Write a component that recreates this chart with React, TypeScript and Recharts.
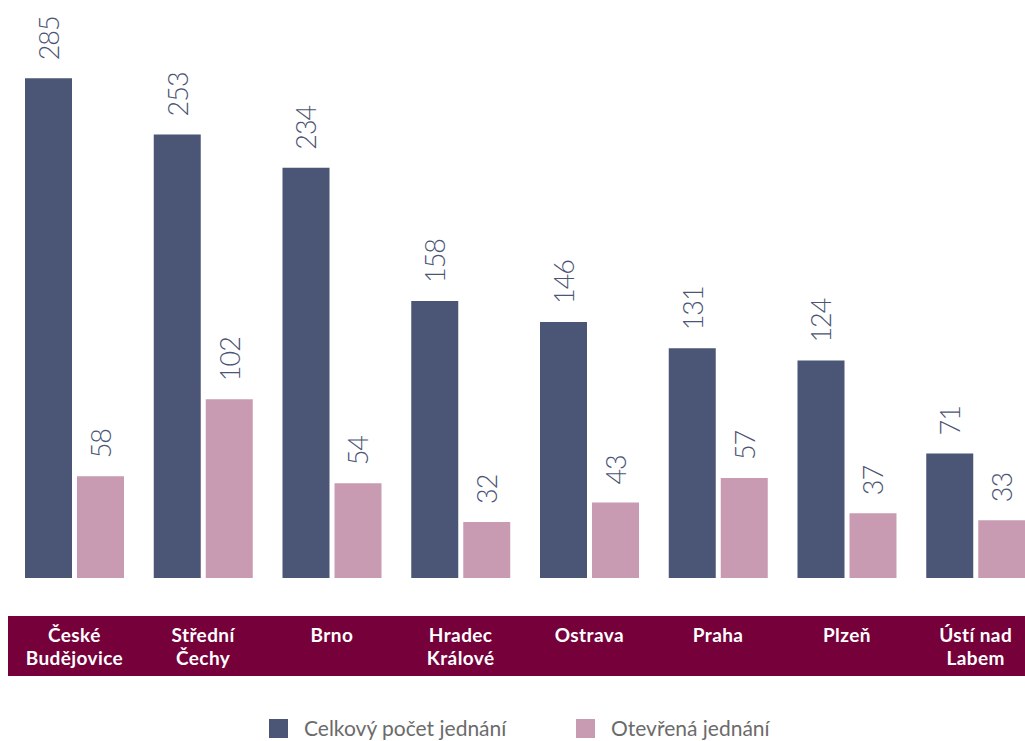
import React from "react";
import { Bar, BarChart, LabelList, XAxis, YAxis } from "recharts";

const CATEGORIES = [
  ["České", "Budějovice"],
  ["Střední", "Čechy"],
  ["Brno"],
  ["Hradec", "Králové"],
  ["Ostrava"],
  ["Praha"],
  ["Plzeň"],
  ["Ústí nad", "Labem"],
];
const TOTAL = [285, 253, 234, 158, 146, 131, 124, 71];
const OPEN = [58, 102, 54, 32, 43, 57, 37, 33];
const SERIES_NAMES = ["Celkový počet jednání", "Otevřená jednání"];

const DARK = "#4b5575";
const PINK = "#c89bb2";
const MAROON = "#75003a";
const FONT = "Lato, 'Open Sans', sans-serif";

const data = CATEGORIES.map((c, i) => ({ name: c.join("\n"), total: TOTAL[i], open: OPEN[i] }));

function CatTick({ x, y, payload }: any) {
  const lines = String(payload.value).split("\n");
  return (
    <text x={x} y={y} textAnchor="middle" fill="#fff" fontFamily={FONT} fontWeight={700} fontSize={19} letterSpacing={0.4}>
      {lines.map((l, i) => (
        <tspan key={i} x={x} dy={i === 0 ? 56 : 23}>
          {l}
        </tspan>
      ))}
    </text>
  );
}

function ValueLabel({ x, y, width, value }: any) {
  const cx = x + width / 2;
  const ty = y - 18;
  return (
    <text
      x={cx}
      y={ty}
      transform={`rotate(-90 ${cx} ${ty})`}
      textAnchor="start"
      dominantBaseline="central"
      fill={DARK}
      fontFamily={FONT}
      fontWeight={300}
      fontSize={27}
      letterSpacing={-1}
    >
      {value}
    </text>
  );
}

const LEGEND_X = [269, 576];

export default function App() {
  const colors = [DARK, PINK];
  return (
    <div style={{ position: "fixed", left: 0, top: 0, width: 1025, height: 741, overflow: "hidden", background: "#fff" }}>
      <div style={{ position: "absolute", left: 8, top: 616, width: 1017, height: 60, background: MAROON }} />
      <div style={{ position: "absolute", left: 0, top: 0 }}>
        <BarChart
          width={1040}
          height={741}
          data={data}
          margin={{ top: 52, right: 0, left: 10, bottom: 63 }}
          barSize={47}
          barGap={5}
        >
          <XAxis dataKey="name" axisLine={false} tickLine={false} tick={<CatTick />} height={100} interval={0} />
          <YAxis hide domain={[0, 300]} />
          <Bar dataKey="total" name={SERIES_NAMES[0]} fill={DARK} isAnimationActive={false}>
            <LabelList dataKey="total" content={<ValueLabel />} />
          </Bar>
          <Bar dataKey="open" name={SERIES_NAMES[1]} fill={PINK} isAnimationActive={false}>
            <LabelList dataKey="open" content={<ValueLabel />} />
          </Bar>
        </BarChart>
      </div>
      {SERIES_NAMES.map((n, i) => (
        <div
          key={n}
          style={{
            position: "absolute",
            left: LEGEND_X[i],
            top: 717,
            height: 22,
            display: "flex",
            alignItems: "center",
            fontFamily: FONT,
            fontSize: 21,
            lineHeight: "22px",
            color: "#6b6b6b",
            whiteSpace: "nowrap",
          }}
        >
          <span style={{ width: 19, height: 19, background: colors[i], display: "inline-block", marginRight: 16, flexShrink: 0 }} />
          <span>{n}</span>
        </div>
      ))}
    </div>
  );
}
